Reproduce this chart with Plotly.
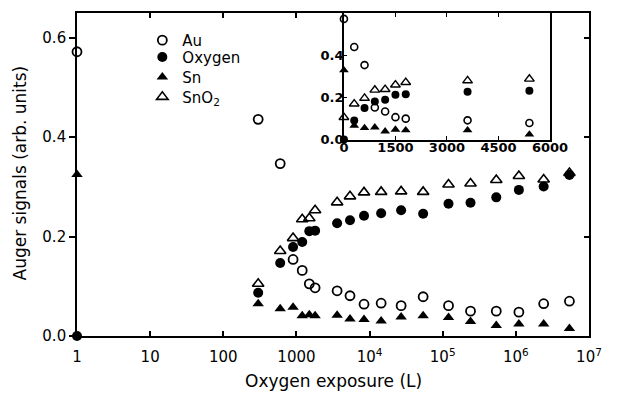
import plotly.graph_objects as go

# ---------------- data (main panel, log exposure axis) ----------------
exposure_main = [1, 300, 600, 900, 1200, 1500, 1800, 3600, 5400, 8400, 14400,
                 27000, 54000, 120000, 240000, 540000, 1100000, 2400000, 5400000]
au_main = [0.572, 0.436, 0.347, 0.154, 0.132, 0.105, 0.097, 0.091, 0.081, 0.064,
           0.066, 0.061, 0.079, 0.061, 0.050, 0.050, 0.048, 0.065, 0.070]
oxygen_main = [0.0, 0.087, 0.147, 0.179, 0.189, 0.211, 0.212, 0.227, 0.233, 0.242,
               0.247, 0.253, 0.246, 0.266, 0.268, 0.279, 0.294, 0.301, 0.324]
sn_main = [0.325, 0.065, 0.055, 0.058, 0.041, 0.043, 0.041, 0.042, 0.034, 0.033,
           0.030, 0.038, 0.041, 0.037, 0.029, 0.021, 0.024, 0.024, 0.015]
sno2_main = [None, 0.105, 0.171, 0.197, 0.235, 0.237, 0.253, 0.269, 0.281, 0.289,
             0.290, 0.291, 0.290, 0.305, 0.307, 0.314, 0.322, 0.315, 0.328]

# ---------------- data (inset, linear exposure axis) ----------------
exposure_inset = [0, 300, 600, 900, 1200, 1500, 1800, 3600, 5400]
au_inset = [0.572, 0.439, 0.353, 0.152, 0.133, 0.106, 0.099, 0.091, 0.078]
oxygen_inset = [0.0, 0.090, 0.149, 0.180, 0.188, 0.212, 0.215, 0.227, 0.231]
sn_inset = [0.329, 0.066, 0.055, 0.058, 0.039, 0.047, 0.044, 0.044, 0.024]
sno2_inset = [0.105, 0.169, 0.196, 0.235, 0.238, 0.259, 0.271, 0.279, 0.287]

series_names = ["Au", "Oxygen", "Sn", "SnO<sub>2</sub>"]
x_tickvals = [1, 10, 100, 1000, 1e4, 1e5, 1e6, 1e7]
x_ticktext = ["1", "10", "100", "1000", "10<sup>4</sup>", "10<sup>5</sup>",
              "10<sup>6</sup>", "10<sup>7</sup>"]
y_tickvals = [0.0, 0.2, 0.4, 0.6]
inset_x_tickvals = [0, 1500, 3000, 4500, 6000]
inset_y_tickvals = [0.0, 0.2, 0.4]

FONT = "DejaVu Sans"
BLACK = "black"

styles = [
    dict(symbol="circle-open", size=9, line=dict(color=BLACK, width=1.8), color=BLACK),
    dict(symbol="circle", size=10, color=BLACK, line=dict(width=0)),
    dict(symbol="triangle-up", size=10, color=BLACK, line=dict(width=0)),
    dict(symbol="triangle-up-open", size=10, line=dict(color=BLACK, width=1.6), color=BLACK),
]
inset_styles = [
    dict(symbol="circle-open", size=7, line=dict(color=BLACK, width=1.6), color=BLACK),
    dict(symbol="circle", size=8, color=BLACK, line=dict(width=0)),
    dict(symbol="triangle-up", size=8.5, color=BLACK, line=dict(width=0)),
    dict(symbol="triangle-up-open", size=8.5, line=dict(color=BLACK, width=1.4), color=BLACK),
]

L, R, T, B = 77, 16, 11, 59
W, H = 618, 395
pw, ph = W - L - R, H - T - B

legend_ids = ["legend", "legend2", "legend3", "legend4"]
legend_tops_px = [22, 39, 59, 79]

fig = go.Figure()
main_series = [au_main, oxygen_main, sn_main, sno2_main]
inset_series = [au_inset, oxygen_inset, sn_inset, sno2_inset]

for name, ys, st, lg in zip(series_names, main_series, styles, legend_ids):
    fig.add_trace(go.Scatter(x=exposure_main, y=ys, mode="markers", name=name,
                             marker=st, cliponaxis=False, xaxis="x", yaxis="y",
                             legend=lg, showlegend=True))
for name, ys, st in zip(series_names, inset_series, inset_styles):
    fig.add_trace(go.Scatter(x=exposure_inset, y=ys, mode="markers", name=name,
                             marker=st, cliponaxis=False, showlegend=False,
                             xaxis="x2", yaxis="y2"))
# empty trace to carry the right-hand inward ticks of the main frame
fig.add_trace(go.Scatter(x=[], y=[], xaxis="x", yaxis="y3", showlegend=False))

ix0 = (350.7 - L) / pw
ix1 = (562.0 - L) / pw
iy0 = (H - B - 138.3) / ph

legend_x = (144 - L) / pw
legends = {}
for lg, top in zip(legend_ids, legend_tops_px):
    legends[lg] = dict(x=legend_x, y=(H - B - top) / ph, xanchor="left", yanchor="top",
                       bgcolor="rgba(0,0,0,0)", font=dict(family=FONT, size=15),
                       itemwidth=30)

fig.update_layout(
    width=W, height=H,
    margin=dict(l=L, r=R, t=T, b=B),
    paper_bgcolor="white", plot_bgcolor="white",
    font=dict(family=FONT, size=15, color=BLACK),
    showlegend=True,
    xaxis=dict(type="log", range=[0, 7], domain=[0, 1], anchor="y",
               tickvals=x_tickvals, ticktext=x_ticktext,
               ticks="inside", ticklen=5, tickwidth=1.5, tickcolor=BLACK,
               showline=True, linewidth=1.6, linecolor=BLACK, mirror="ticks",
               showgrid=False, zeroline=False, layer="below traces",
               tickfont=dict(family=FONT, size=15), ticklabelstandoff=6),
    yaxis=dict(range=[0, 0.65], domain=[0, 1], anchor="x",
               tickvals=y_tickvals, tickformat=".1f",
               ticks="outside", ticklen=6, tickwidth=1.5, tickcolor=BLACK,
               showline=True, linewidth=1.6, linecolor=BLACK, mirror=True,
               showgrid=False, zeroline=False, layer="below traces",
               tickfont=dict(family=FONT, size=15), ticklabelstandoff=0),
    yaxis3=dict(range=[0, 0.65], overlaying="y", side="right", anchor="x",
                tickvals=y_tickvals, showticklabels=False,
                ticks="inside", ticklen=5, tickwidth=1.5, tickcolor=BLACK,
                showline=False, showgrid=False, zeroline=False),
    xaxis2=dict(range=[0, 6000], domain=[ix0, ix1], anchor="y2",
                tickvals=inset_x_tickvals,
                ticks="inside", ticklen=4, tickwidth=1.3, tickcolor=BLACK,
                showline=True, linewidth=1.6, linecolor=BLACK, mirror="ticks",
                showgrid=False, zeroline=False, layer="below traces",
                tickfont=dict(family=FONT, size=13, weight="bold"), ticklabelstandoff=-5),
    yaxis2=dict(range=[0, 0.6], domain=[iy0, 1], anchor="x2",
                tickvals=inset_y_tickvals, tickformat=".1f",
                ticks="inside", ticklen=3, tickwidth=1.3, tickcolor=BLACK,
                showline=True, linewidth=1.6, linecolor=BLACK, mirror=True,
                showgrid=False, zeroline=False, layer="below traces",
                tickfont=dict(family=FONT, size=13, weight="bold"), ticklabelstandoff=-4),
    annotations=[
        dict(text="Oxygen exposure (L)", xref="paper", yref="paper",
             x=0.5, y=(H - B - 381) / ph, xanchor="center", yanchor="middle",
             showarrow=False, font=dict(family=FONT, size=17)),
        dict(text="Auger signals (arb. units)", xref="paper", yref="paper",
             x=(19 - L) / pw, y=(H - B - 172) / ph, xanchor="center", yanchor="middle",
             textangle=-90, showarrow=False, font=dict(family=FONT, size=17)),
    ],
    **legends,
)

fig.write_html("out.html")
